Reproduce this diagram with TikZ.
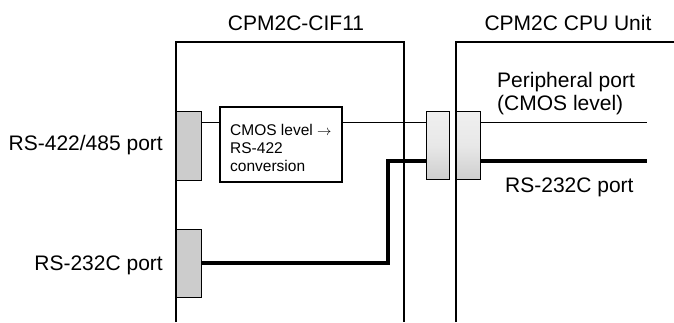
\documentclass[tikz,border=0pt]{standalone}
\usepackage{fontspec}
\setmainfont{Liberation Sans}
\begin{document}
\begin{tikzpicture}[x=1pt,y=-1pt,
  box/.style={draw,line width=1.2pt},
  portbox/.style={draw,line width=1pt,inner sep=0,outer sep=0,anchor=north west,minimum width=25pt,minimum height=69pt},
  lport/.style={portbox,fill=gray!40},
  mport/.style={portbox,top color=gray!12,bottom color=gray!38,middle color=gray!18},
  thin/.style={line width=0.9pt},
  thick/.style={line width=4.8pt},
  big/.style={font=\fontsize{21}{23}\selectfont},
  small/.style={font=\fontsize{15.5}{18}\selectfont}]
\useasboundingbox (0,0) rectangle (674,322);
% unit outlines
\draw[box] (176,322) -- (176,42) -- (404,42) -- (404,322);
\draw[box] (456,322) -- (456,42) -- (674,42);
% titles
\node[big] (t1) at (296,23) {CPM2C-CIF11};
\node[big] (t2) at (568,23) {CPM2C CPU Unit};
% ports
\node[lport] (p1) at (176,111) {};
\node[lport,minimum height=68pt] (p2) at (176,229) {};
\node[mport,minimum width=23pt,minimum height=68pt] (ca) at (426,111) {};
\node[mport,minimum width=24pt,minimum height=68pt] (cb) at (456,111) {};
% conversion box
\node[draw,line width=1.1pt,inner sep=0,outer sep=0,anchor=north west,minimum width=122pt,minimum height=75pt] (cv) at (220,107) {};
\node[small,align=left,anchor=west,inner sep=0] (cvt) at (230,148) {CMOS level $\rightarrow$\\RS-422\\conversion};
% helper coordinates
\coordinate (yp) at (0,122);
\coordinate (yt) at (0,161);
\coordinate (bend) at (388,161);
\coordinate (pe) at (647,122);
\coordinate (te) at (647,161);
% thin peripheral line
\draw[thin] (p1.east |- yp) -- (cv.west |- yp);
\draw[thin] (cv.east |- yp) -- (ca.west |- yp);
\draw[thin] (cb.east |- yp) -- (pe);
% thick RS-232C line
\draw[thick] (p2.east) -| (bend) -- (ca.west |- yt);
\draw[thick] (cb.east |- yt) -- (te);
% labels
\node[big,anchor=east,inner sep=0] (l1) at (163,145) {RS-422/485 port};
\node[big,anchor=east,inner sep=0] (l2) at (163,265) {RS-232C port};
\node[big,anchor=west,align=left,inner sep=0] (r1) at (497,94) {Peripheral port\\(CMOS level)};
\node[big,anchor=west,inner sep=0] (r2) at (505,187) {RS-232C port};
\end{tikzpicture}
\end{document}
